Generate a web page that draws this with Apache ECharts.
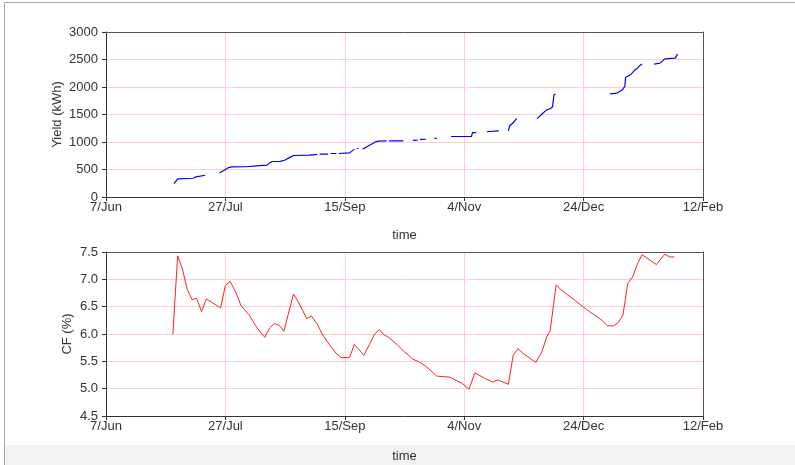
<!DOCTYPE html>
<html>
<head>
<meta charset="utf-8">
<script src="https://cdn.jsdelivr.net/npm/echarts@6/dist/echarts.min.js"></script>
<style>
  html, body { margin: 0; padding: 0; background: #ffffff; }
  #chart { width: 795px; height: 465px; }
</style>
</head>
<body>
<div id="chart"></div>
<script>
// Time axis: 7 Jun to 12 Feb, ticks every 50 days
const axisStart = '2013-06-07';
const axisDays = 250;
const tickStepDays = 50;
const xTickLabels = ['7/Jun', '27/Jul', '15/Sep', '4/Nov', '24/Dec', '12/Feb'];

// Cumulative yield (kWh); null marks a break in the record
const yieldTimes = [
  '2013-07-05 12:00', '2013-07-07', '2013-07-07 12:00', '2013-07-13 12:00', '2013-07-14 12:00', '2013-07-16 12:00', '2013-07-18 12:00',
  null,
  '2013-07-24 12:00', '2013-07-26 12:00', '2013-07-28', '2013-07-29 12:00', '2013-08-04 12:00', '2013-08-05', '2013-08-09', '2013-08-09 12:00',
  '2013-08-13 12:00', '2013-08-14 12:00', '2013-08-15 12:00', '2013-08-19', '2013-08-19 12:00', '2013-08-21', '2013-08-23', '2013-08-24 12:00',
  '2013-08-31', '2013-08-31 12:00', '2013-09-03 12:00',
  null,
  '2013-09-04 12:00', '2013-09-08',
  null,
  '2013-09-09', '2013-09-11 12:00',
  null,
  '2013-09-12 12:00', '2013-09-17', '2013-09-18', '2013-09-19',
  null,
  '2013-09-20', '2013-09-20 18:00',
  null,
  '2013-09-22 12:00', '2013-09-23 12:00', '2013-09-24', '2013-09-28', '2013-09-29', '2013-10-02 12:00',
  null,
  '2013-10-03 12:00', '2013-10-09 12:00',
  null,
  '2013-10-13 12:00', '2013-10-15 12:00',
  null,
  '2013-10-16 12:00', '2013-10-19',
  null,
  '2013-10-22 12:00', '2013-10-23 12:00',
  null,
  '2013-10-29 12:00', '2013-11-07', '2013-11-07 12:00', '2013-11-09',
  null,
  '2013-11-13 12:00', '2013-11-18 12:00',
  null,
  '2013-11-22 12:00', '2013-11-23', '2013-11-24 12:00', '2013-11-26',
  null,
  '2013-12-04 12:00', '2013-12-06 12:00', '2013-12-08 12:00', '2013-12-10', '2013-12-11', '2013-12-11 12:00', '2013-12-11 14:00', '2013-12-12 05:00',
  null,
  '2014-01-04', '2014-01-07', '2014-01-09', '2014-01-10 07:00', '2014-01-10 14:00', '2014-01-12', '2014-01-13', '2014-01-14 12:00',
  '2014-01-15 12:00', '2014-01-16 12:00', '2014-01-17 12:00',
  null,
  '2014-01-22 12:00', '2014-01-25', '2014-01-27', '2014-01-31 08:00', '2014-02-01 08:00'
];
const yieldValues = [
  244, 330, 341, 341, 365, 380, 396,
  null,
  438, 487, 529, 547, 550, 560, 565, 578,
  580, 620, 645, 648, 669, 672, 720, 755,
  760, 773, 775,
  null,
  779, 779,
  null,
  791, 791,
  null,
  791, 803, 834, 870,
  null,
  882, 882,
  null,
  870, 894, 912, 1003, 1016, 1022,
  null,
  1022, 1022,
  null,
  1030, 1034,
  null,
  1047, 1050,
  null,
  1065, 1065,
  null,
  1100, 1100, 1170, 1170,
  null,
  1186, 1204,
  null,
  1204, 1290, 1350, 1430,
  null,
  1425, 1505, 1585, 1605, 1642, 1655, 1860, 1868,
  null,
  1874, 1890, 1940, 2010, 2178, 2205, 2239, 2310,
  2342, 2390, 2416,
  null,
  2416, 2434, 2512, 2525, 2598
];

// Capacity factor (%)
const cfTimes = [
  '2013-07-05', '2013-07-07', '2013-07-09', '2013-07-11', '2013-07-13', '2013-07-15', '2013-07-17', '2013-07-19',
  '2013-07-25', '2013-07-27', '2013-07-29', '2013-07-31 12:00', '2013-08-02 12:00', '2013-08-04 12:00', '2013-08-06',
  '2013-08-08 12:00', '2013-08-10 12:00', '2013-08-12 12:00', '2013-08-14 12:00', '2013-08-16 12:00', '2013-08-18 12:00',
  '2013-08-20 12:00', '2013-08-24 12:00', '2013-08-26 12:00', '2013-08-28 12:00', '2013-08-30', '2013-09-01',
  '2013-09-03 12:00', '2013-09-05 12:00', '2013-09-07 12:00', '2013-09-09 12:00', '2013-09-11 12:00', '2013-09-13 12:00',
  '2013-09-17', '2013-09-19', '2013-09-21', '2013-09-23', '2013-09-27 12:00', '2013-09-29 12:00', '2013-10-01 12:00',
  '2013-10-03', '2013-10-05 12:00', '2013-10-07 12:00', '2013-10-09 12:00', '2013-10-11 12:00', '2013-10-13 12:00',
  '2013-10-16 12:00', '2013-10-19 12:00', '2013-10-23 12:00', '2013-10-29', '2013-11-03', '2013-11-06',
  '2013-11-08 12:00', '2013-11-13', '2013-11-16', '2013-11-18', '2013-11-22 12:00', '2013-11-24 12:00',
  '2013-11-26 12:00', '2013-11-28 12:00', '2013-12-04', '2013-12-06 12:00', '2013-12-08 12:00', '2013-12-10',
  '2013-12-12 12:00', '2013-12-14 12:00', '2013-12-20 12:00', '2013-12-24', '2013-12-26 12:00', '2014-01-01',
  '2014-01-03', '2014-01-05 12:00', '2014-01-07 12:00', '2014-01-09 12:00', '2014-01-11 12:00', '2014-01-13 12:00',
  '2014-01-15 12:00', '2014-01-17 12:00', '2014-01-23 12:00', '2014-01-27', '2014-01-29', '2014-01-31'
];
const cfValues = [
  6.00, 7.43, 7.19, 6.82, 6.63, 6.65, 6.41, 6.64,
  6.48, 6.89, 6.96, 6.75, 6.52, 6.42, 6.35,
  6.16, 6.04, 5.94, 6.11, 6.19, 6.16,
  6.05, 6.73, 6.59, 6.42, 6.28, 6.33,
  6.18, 6.00, 5.87, 5.75, 5.64, 5.57,
  5.57, 5.81, 5.71, 5.61, 6.00, 6.08, 5.98,
  5.95, 5.86, 5.78, 5.69, 5.62, 5.54,
  5.48, 5.39, 5.23, 5.21, 5.10, 4.99,
  5.29, 5.18, 5.12, 5.16, 5.08, 5.61,
  5.73, 5.65, 5.48, 5.67, 5.94, 6.06,
  6.90, 6.81, 6.61, 6.49, 6.41, 6.24,
  6.15, 6.15, 6.21, 6.35, 6.93, 7.04,
  7.28, 7.45, 7.27, 7.46, 7.41, 7.41
];

// Convert a 'YYYY-MM-DD[ HH:mm]' string into days since axisStart
function toMs(s) {
  const parts = s.split(' ');
  const d = parts[0].split('-').map(Number);
  let ms = Date.UTC(d[0], d[1] - 1, d[2]);
  if (parts[1]) {
    const t = parts[1].split(':').map(Number);
    ms += (t[0] * 60 + t[1]) * 60000;
  }
  return ms;
}
const baseMs = toMs(axisStart);
const dayOf = s => (toMs(s) - baseMs) / 86400000;

function buildPairs(times, values) {
  const out = [];
  let lastX = 0;
  for (let i = 0; i < values.length; i++) {
    if (values[i] === null || times[i] === null) {
      out.push([lastX, null]);
    } else {
      lastX = dayOf(times[i]);
      out.push([lastX, values[i]]);
    }
  }
  return out;
}

const FONT = "'Liberation Sans', Arial, sans-serif";
const TEXT = '#333333';
const GRIDLINE = '#ffcfcf';
const FRAME = '#555555';

function makeXAxis(gridIndex, nameGap) {
  return {
    type: 'value',
    gridIndex: gridIndex,
    min: 0,
    max: axisDays,
    interval: tickStepDays,
    name: 'time',
    nameLocation: 'middle',
    nameGap: nameGap,
    nameTextStyle: { color: TEXT, fontFamily: FONT, fontSize: 13 },
    axisLine: { show: true, lineStyle: { color: '#333333', width: 1 } },
    axisTick: { show: true, length: 4, lineStyle: { color: '#333333' } },
    axisLabel: {
      color: TEXT, fontFamily: FONT, fontSize: 13, margin: 4,
      formatter: v => xTickLabels[Math.round(v / tickStepDays)] || ''
    },
    splitLine: { show: true, lineStyle: { color: GRIDLINE, width: 1 } }
  };
}

// Plain frame edges (top / right) drawn above the grid lines
function frameX(gridIndex) {
  return {
    type: 'value', gridIndex: gridIndex, position: 'top',
    min: 0, max: axisDays, interval: tickStepDays,
    axisLine: { show: true, onZero: false, lineStyle: { color: FRAME, width: 1 } },
    axisTick: { show: false }, axisLabel: { show: false }, splitLine: { show: false }
  };
}
function frameY(gridIndex, min, max, interval) {
  return {
    type: 'value', gridIndex: gridIndex, position: 'right',
    min: min, max: max, interval: interval,
    axisLine: { show: true, onZero: false, lineStyle: { color: FRAME, width: 1 } },
    axisTick: { show: false }, axisLabel: { show: false }, splitLine: { show: false }
  };
}

function makeYAxis(gridIndex, opts) {
  return Object.assign({
    type: 'value',
    gridIndex: gridIndex,
    nameLocation: 'middle',
    nameMoveOverlap: false,
    nameTextStyle: { color: TEXT, fontFamily: FONT, fontSize: 13 },
    axisLine: { show: true, lineStyle: { color: '#333333', width: 1 } },
    axisTick: { show: true, length: 4, lineStyle: { color: '#333333' } },
    splitLine: { show: true, lineStyle: { color: GRIDLINE, width: 1 } }
  }, opts);
}

const chart = echarts.init(document.getElementById('chart'), null, { renderer: 'canvas' });

chart.setOption({
  backgroundColor: '#ffffff',
  animation: false,
  graphic: [
    {
      type: 'rect', z: -10, silent: true,
      shape: { x: 4, y: 445, width: 791, height: 20 },
      style: { fill: '#f2f2f2' }
    },
    {
      type: 'polyline', z: -9, silent: true,
      shape: { points: [[4.5, 465], [4.5, 2.5], [795, 2.5]] },
      style: { stroke: '#a6a6a6', lineWidth: 1, fill: null }
    }
  ],
  grid: [
    { left: 106, top: 32, width: 597, height: 165 },
    { left: 106, top: 252, width: 597, height: 164 }
  ],
  xAxis: [makeXAxis(0, 32), makeXAxis(1, 34), frameX(0), frameX(1)],
  yAxis: [
    makeYAxis(0, {
      name: 'Yield (kWh)', nameGap: 42, min: 0, max: 3000, interval: 500,
      axisLabel: { color: TEXT, fontFamily: FONT, fontSize: 13, margin: 8, formatter: v => String(v) }
    }),
    makeYAxis(1, {
      name: 'CF (%)', nameGap: 32, min: 4.5, max: 7.5, interval: 0.5,
      axisLabel: { color: TEXT, fontFamily: FONT, fontSize: 13, margin: 8, formatter: v => v.toFixed(1) }
    }),
    frameY(0, 0, 3000, 500),
    frameY(1, 4.5, 7.5, 0.5)
  ],
  series: [
    {
      type: 'line', xAxisIndex: 0, yAxisIndex: 0,
      data: buildPairs(yieldTimes, yieldValues),
      connectNulls: false, showSymbol: false, symbol: 'none',
      lineStyle: { color: '#0000ff', width: 1.2 }
    },
    {
      type: 'line', xAxisIndex: 1, yAxisIndex: 1,
      data: buildPairs(cfTimes, cfValues),
      showSymbol: false, symbol: 'none',
      lineStyle: { color: '#ff2020', width: 1 }
    }
  ]
});
</script>
</body>
</html>
